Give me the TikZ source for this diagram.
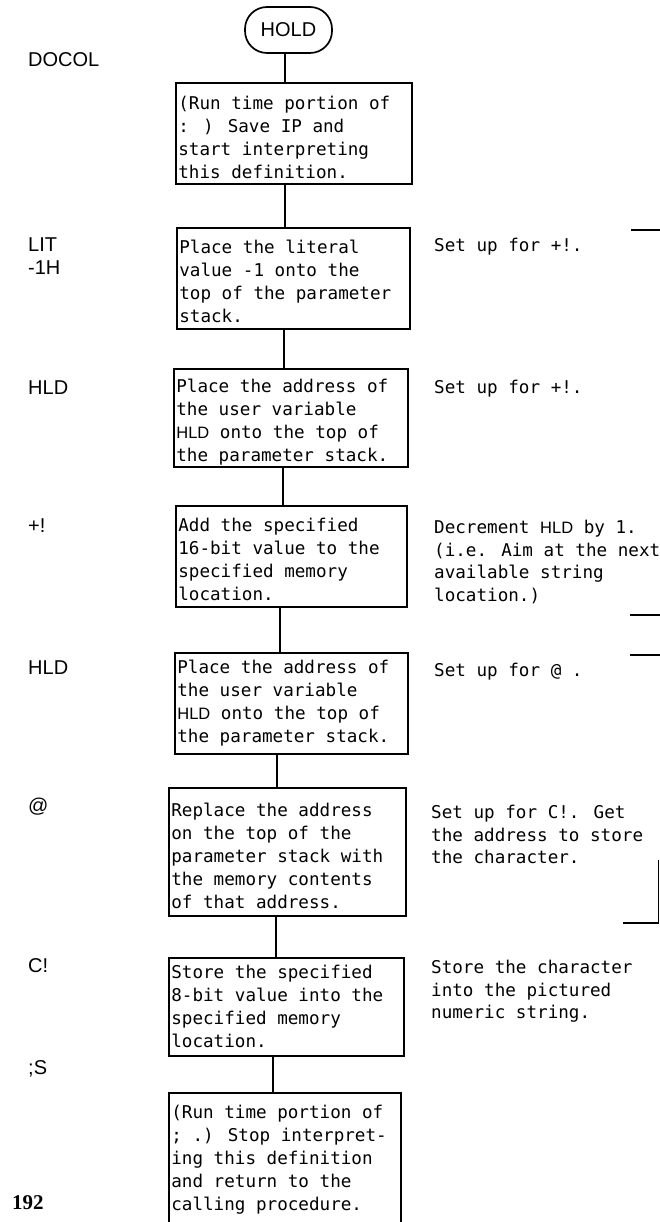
\documentclass[tikz,border=0pt]{standalone}
\usepackage{fontspec}
\newfontfamily\mono{DejaVu Sans Mono}
\newfontfamily\lab{Liberation Sans}
\newfontfamily\pagenum{Liberation Serif}
\newcommand\bxt[4]{\parbox[t][#2pt][t]{#1pt}{\rule{0pt}{#3pt}#4}}
\newcommand\rtx[1]{\parbox[t]{240pt}{\rule{0pt}{20pt}#1}}
\newcommand\hl{{\lab\fontsize{16.5}{20}\selectfont HLD}}
\begin{document}
\begin{tikzpicture}[x=1pt,y=-1pt,
  stepbox/.style={draw, line width=1.7pt, anchor=north west, inner xsep=2.5pt, inner ysep=0pt, font=\mono\fontsize{17.6}{22.8}\selectfont},
  note/.style={anchor=north west, inner sep=0pt, font=\mono\fontsize{17.6}{22.8}\selectfont},
  lbl/.style={anchor=base west, inner sep=0pt, font=\lab\fontsize{20}{24}\selectfont},
  term/.style={draw, line width=1.7pt, rounded corners=22pt, minimum width=87pt, minimum height=46pt, inner sep=0pt, font=\lab\fontsize{20}{24}\selectfont},
  conn/.style={line width=1.7pt},
  edgemark/.style={line width=1.7pt}
]
\useasboundingbox (0,0) rectangle (660,1222);

% terminal
\node[term] (hold) at (288.5,30) {HOLD};

% process boxes
\node[stepbox] (b1) at (175,82) {\bxt{231}{101}{27}{(Run time portion of\\: ) Save IP and\\start interpreting\\this definition.}};
\node[stepbox] (b2) at (176,227) {\bxt{228}{101}{26}{Place the literal\\value -1 onto the\\top of the parameter\\stack.}};
\node[stepbox] (b3) at (173,368) {\bxt{229}{98}{24}{Place the address of\\the user variable\\\hl{} onto the top of\\the parameter stack.}};
\node[stepbox] (b4) at (175,505) {\bxt{226}{101}{26}{Add the specified\\16-bit value to the\\specified memory\\location.}};
\node[stepbox] (b5) at (174,652) {\bxt{228}{101}{21}{Place the address of\\the user variable\\\hl{} onto the top of\\the parameter stack.}};
\node[stepbox] (b6) at (168,787) {\bxt{232}{128}{29}{Replace the address\\on the top of the\\parameter stack with\\the memory contents\\of that address.}};
\node[stepbox] (b7) at (168,957) {\bxt{230}{98}{21}{Store the specified\\8-bit value into the\\specified memory\\location.}};
\node[stepbox] (b8) at (168,1092) {\bxt{227}{150}{26}{(Run time portion of\\; .) Stop interpret-\\ing this definition\\and return to the\\calling procedure.}};

% connectors
\draw[conn] ([xshift=-3.5pt]hold.south) -- ([xshift=-3.5pt]hold.south |- b1.north);
\draw[conn] ([xshift=110pt]b1.south west) -- ([xshift=110pt]b1.south west |- b2.north);
\draw[conn] ([xshift=108pt]b2.south west) -- ([xshift=108pt]b2.south west |- b3.north);
\draw[conn] ([xshift=110pt]b3.south west) -- ([xshift=110pt]b3.south west |- b4.north);
\draw[conn] ([xshift=105pt]b4.south west) -- ([xshift=105pt]b4.south west |- b5.north);
\draw[conn] ([xshift=103pt]b5.south west) -- ([xshift=103pt]b5.south west |- b6.north);
\draw[conn] ([xshift=108pt]b6.south west) -- ([xshift=108pt]b6.south west |- b7.north);
\draw[conn] ([xshift=105pt]b7.south west) -- ([xshift=105pt]b7.south west |- b8.north);

% left labels
\node[lbl] (l1) at (28,67) {DOCOL};
\node[lbl] (l2) at (28,252) {LIT};
\node[lbl] (l2b) at (28,275) {-1H};
\node[lbl] (l3) at (28,394) {HLD};
\node[lbl] (l4) at (28,532) {+!};
\node[lbl] (l5) at (28,674) {HLD};
\node[lbl] (l6) at (28,812) {@};
\node[lbl] (l7) at (28,972) {C!};
\node[lbl] (l8) at (28,1074) {;S};
\node[anchor=base west, inner sep=0pt, font=\pagenum\bfseries\fontsize{21}{24}\selectfont] (pg) at (12,1209) {192};

% right comments
\node[note] (r2) at (434,231) {\rtx{Set up for +!.}};
\node[note] (r3) at (434,373) {\rtx{Set up for +!.}};
\node[note] (r4) at (434,513) {\rtx{Decrement \hl{} by 1.\\(i.e. Aim at the next\\available string\\location.)}};
\node[note] (r5) at (434,656) {\rtx{Set up for @ .}};
\node[note] (r6) at (431,798) {\rtx{Set up for C!.  Get\\the address to store\\the character.}};
\node[note] (r7) at (431,953) {\rtx{Store the character\\into the pictured\\numeric string.}};

% partial marks at the right edge
\draw[edgemark] (631,230) -- (660,230);
\draw[edgemark] (630,615) -- (660,615);
\draw[edgemark] (630,655) -- (660,655);
\draw[edgemark] (658.5,860) -- (658.5,923) -- (623,923);
\end{tikzpicture}
\end{document}
